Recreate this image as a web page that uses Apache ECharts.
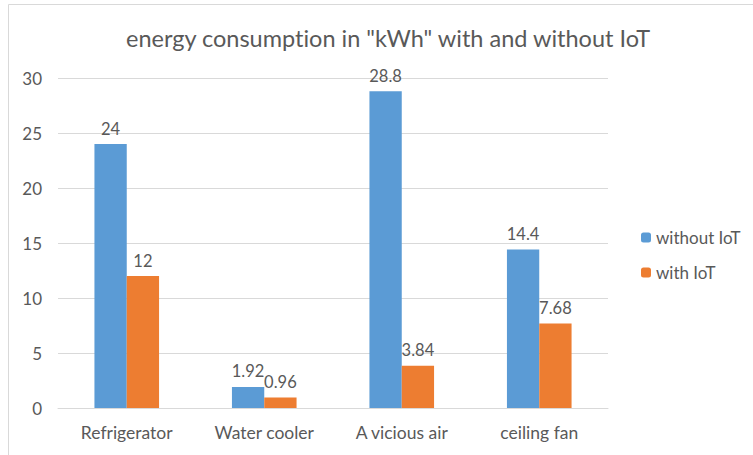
<!DOCTYPE html>
<html>
<head>
<meta charset="utf-8">
<script src="https://cdn.jsdelivr.net/npm/echarts@6/dist/echarts.min.js"></script>
<style>
  html, body { margin: 0; padding: 0; background: #fff; }
  #chart { width: 753px; height: 455px; }
  #chart text { font-variant-ligatures: none; }
</style>
</head>
<body>
<div id="chart"></div>
<script>
// data
const categories = ['Refrigerator', 'Water cooler', 'A vicious air', 'ceiling fan']
const withoutIoT = [24, 1.92, 28.8, 14.4]
const withIoT = [12, 0.96, 3.84, 7.68]

const font = 'Lato, "Open Sans", sans-serif'
const grey = '#595959'

const chart = echarts.init(document.getElementById('chart'), null, { renderer: 'svg' })

chart.setOption({
  animation: false,
  graphic: [
    {
      type: 'rect',
      shape: { x: 8.5, y: 4.5, width: 760, height: 470 },
      style: { fill: 'none', stroke: '#d9d9d9', lineWidth: 1 },
      silent: true
    }
  ],
  title: {
    text: 'energy consumption in "kWh" with and without IoT',
    left: 383,
    top: 21,
    textAlign: 'center',
    textStyle: { fontFamily: font, fontSize: 23.5, fontWeight: 'normal', color: grey }
  },
  legend: {
    orient: 'vertical',
    left: 636,
    top: 224,
    itemWidth: 10,
    itemHeight: 10,
    itemGap: 18,
    data: ['without IoT', 'with IoT'],
    textStyle: { fontFamily: font, fontSize: 17, color: grey }
  },
  grid: {
    left: 58,
    right: 145,
    top: 78,
    bottom: 47,
    containLabel: false
  },
  xAxis: {
    type: 'category',
    data: categories,
    axisTick: { show: false },
    axisLine: { lineStyle: { color: '#d9d9d9' } },
    axisLabel: { fontFamily: font, fontSize: 17.5, color: grey, margin: 15 }
  },
  yAxis: {
    type: 'value',
    min: 0,
    max: 30,
    interval: 5,
    axisLine: { show: false },
    axisTick: { show: false },
    splitLine: { lineStyle: { color: '#d9d9d9' } },
    axisLabel: { fontFamily: font, fontSize: 17, color: grey, margin: 16 }
  },
  series: [
    {
      name: 'without IoT',
      type: 'bar',
      data: withoutIoT,
      barGap: '0%',
      barCategoryGap: '53%',
      itemStyle: { color: '#5b9bd5' },
      label: { show: true, position: 'top', distance: 7, fontFamily: font, fontSize: 16.5, color: grey }
    },
    {
      name: 'with IoT',
      type: 'bar',
      data: withIoT,
      itemStyle: { color: '#ed7d31' },
      label: { show: true, position: 'top', distance: 7, fontFamily: font, fontSize: 16.5, color: grey }
    }
  ]
})
</script>
</body>
</html>
